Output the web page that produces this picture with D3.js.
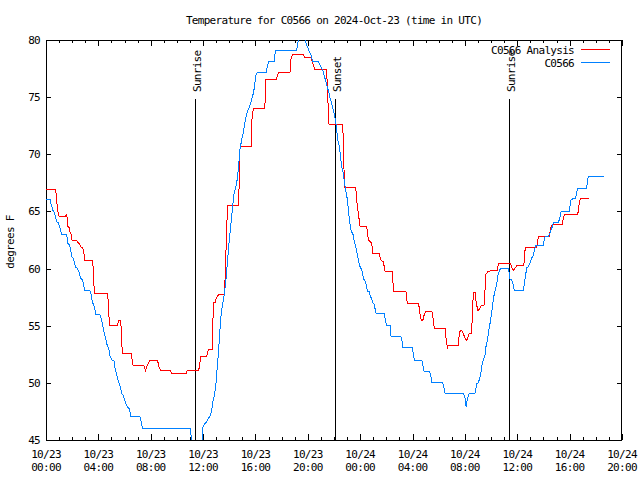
<!DOCTYPE html>
<html><head><meta charset="utf-8">
<script src="https://cdn.jsdelivr.net/npm/d3@7"></script>
<style>
body{margin:0;background:#fff}
svg text{font-family:"DejaVu Sans Mono",monospace;font-size:11px;letter-spacing:-0.7px;fill:#000}
</style></head><body>
<svg id="c" width="640" height="480"></svg>
<script>
// ---- data (hours since 2024-10-23 00:00 UTC, degrees F) ----
const analysis = [[0,66.93],[0.74,66.93],[0.815,65.94],[0.92,64.89],[0.99,64.6],[1.50,64.6],[1.55,64.69],[1.63,64.4],[1.68,63.67],[1.76,63.58],[1.83,63.23],[1.94,62.94],[1.99,62.5],[2.32,62.5],[2.39,62.35],[2.52,62.21],[2.65,61.92],[2.78,61.83],[2.85,61.63],[2.90,61.33],[2.95,60.75],[3.54,60.75],[3.62,59.88],[3.67,58.42],[3.72,57.83],[4.69,57.83],[4.76,57.1],[4.81,55.79],[4.86,55.06],[5.45,55.06],[5.58,55.5],[5.70,55.44],[5.75,54.63],[5.83,52.53],[6.52,52.53],[6.60,51.85],[6.67,51.48],[7.49,51.48],[7.61,51.07],[7.74,51.56],[7.94,52.0],[8.51,52.0],[8.63,51.42],[8.76,51.04],[9.52,51.04],[9.65,50.78],[10.70,50.78],[10.80,51.1],[11.64,51.1],[11.71,51.33],[11.82,52.35],[12.27,52.35],[12.40,52.88],[12.71,52.88],[12.73,53.95],[12.78,57.02],[12.91,57.02],[13.04,57.5],[13.17,57.69],[13.62,57.69],[13.70,59.58],[13.80,63.58],[13.88,65.53],[14.69,65.53],[14.74,66.79],[14.82,70.43],[14.90,70.64],[15.66,70.64],[15.74,73.2],[15.84,73.99],[16.68,73.99],[16.75,74.66],[16.80,76.56],[17.62,76.56],[17.67,76.91],[17.77,77.17],[18.64,77.17],[18.72,78.4],[18.84,78.75],[19.66,78.75],[19.73,78.5],[20.24,78.5],[20.35,78.1],[20.55,77.38],[21.44,77.38],[21.52,75.04],[21.62,72.6],[22.64,72.6],[22.72,71.4],[22.79,67.13],[23.66,67.13],[23.73,66.0],[23.86,64.83],[23.99,63.67],[24.50,63.67],[24.55,63.23],[24.62,62.5],[24.88,62.21],[24.96,61.33],[25.46,61.33],[25.57,60.75],[25.77,60.6],[25.90,59.73],[26.48,59.73],[26.53,57.98],[27.50,57.98],[27.60,56.93],[28.47,56.93],[28.55,56.1],[28.68,55.45],[28.78,55.45],[28.90,56.0],[29.0,56.23],[29.48,56.23],[29.56,55.7],[29.66,54.77],[30.50,54.77],[30.58,53.6],[30.67,53.1],[30.74,53.3],[31.50,53.3],[31.58,54.4],[31.70,54.63],[31.85,54.4],[31.98,54.0],[32.14,53.7],[32.21,53.9],[32.34,54.33],[32.47,54.33],[32.55,55.3],[32.60,56.96],[32.66,57.95],[32.77,57.95],[32.88,56.9],[33.0,56.3],[33.14,56.52],[33.28,56.81],[33.46,56.81],[33.54,58.2],[33.61,59.5],[33.72,59.7],[33.92,59.79],[34.45,59.79],[34.57,60.4],[34.68,60.46],[35.47,60.46],[35.60,60.02],[35.72,59.85],[35.83,60.05],[35.95,60.23],[36.50,60.23],[36.57,61.48],[36.65,61.86],[37.48,61.86],[37.56,62.5],[37.66,62.85],[38.45,62.85],[38.50,63.23],[38.58,63.61],[38.68,63.9],[39.47,63.9],[39.52,64.54],[39.65,64.77],[40.59,64.77],[40.67,64.98],[40.74,65.85],[40.85,66.15],[41.46,66.15]];

const station = [[0,66.06],[0.31,66.06],[0.36,65.77],[0.43,65.48],[0.53,65.07],[0.61,64.98],[0.69,64.69],[0.82,64.1],[0.92,64.02],[1.04,63.67],[1.12,63.38],[1.17,63.02],[1.55,63.02],[1.63,62.65],[1.68,62.21],[1.78,62.06],[1.88,61.77],[1.96,61.04],[2.09,60.9],[2.19,60.46],[2.27,60.11],[2.39,60.02],[2.52,59.73],[2.65,59.15],[2.78,59.0],[2.85,58.71],[2.95,58.07],[3.36,58.07],[3.46,57.69],[3.54,57.02],[3.62,56.9],[3.72,56.52],[3.79,56.02],[4.10,56.02],[4.18,55.79],[4.25,55.5],[4.35,54.92],[4.48,54.19],[4.56,53.9],[4.63,53.46],[4.81,52.88],[4.89,52.35],[5.02,52.0],[5.19,51.94],[5.27,51.27],[5.37,50.83],[5.50,50.25],[5.58,49.96],[5.70,49.52],[5.78,49.08],[5.88,48.94],[6.01,48.5],[6.14,48.06],[6.21,47.92],[6.39,47.69],[6.47,47.04],[7.18,47.04],[7.28,46.6],[7.36,46.02],[11.05,46.02],[11.13,44.4],[11.89,44.4],[11.97,46.08],[12.10,46.37],[12.22,46.52],[12.40,46.87],[12.53,47.1],[12.66,47.54],[12.73,48.27],[12.86,48.85],[12.99,50.02],[13.09,51.48],[13.19,52.93],[13.29,54.68],[13.37,55.85],[13.47,56.73],[13.60,57.6],[13.73,58.77],[13.80,59.79],[13.88,60.81],[13.98,62.27],[14.06,63.14],[14.16,64.31],[14.26,65.48],[14.36,66.5],[14.46,66.93],[14.57,67.52],[14.64,68.1],[14.72,69.12],[14.82,70.43],[14.90,70.96],[15.0,71.6],[15.07,71.89],[15.15,72.48],[15.23,73.06],[15.33,73.5],[15.41,73.79],[15.53,74.08],[15.64,74.52],[15.71,74.81],[15.79,75.1],[15.92,75.83],[16.02,76.85],[16.14,77.14],[16.81,77.14],[16.91,77.73],[17.01,78.08],[17.42,78.08],[17.52,79.04],[19.15,79.07],[19.20,79.56],[19.28,80.0],[19.35,80.44],[19.45,80.8],[19.70,80.8],[19.79,80.1],[19.84,79.85],[19.96,79.42],[20.12,78.98],[20.24,78.69],[20.37,78.1],[20.80,78.1],[20.93,77.81],[21.06,77.52],[21.19,77.23],[21.26,76.79],[21.36,76.5],[21.44,76.06],[21.52,75.77],[21.62,75.33],[21.70,74.9],[21.82,74.46],[21.95,73.88],[22.03,73.44],[22.13,72.85],[22.21,72.13],[22.28,71.25],[22.38,70.81],[22.46,70.23],[22.54,69.35],[22.64,68.63],[22.72,68.33],[22.79,67.6],[22.89,66.88],[22.97,66.44],[23.05,65.71],[23.15,64.54],[23.22,63.96],[23.30,63.38],[23.40,63.08],[23.48,62.94],[23.55,62.35],[23.66,61.92],[23.73,61.48],[23.81,61.04],[23.89,60.6],[23.99,60.17],[24.06,60.02],[24.17,59.73],[24.24,59.15],[24.32,59.0],[24.42,58.85],[24.50,58.27],[24.57,57.98],[24.68,57.98],[24.75,57.69],[24.88,57.31],[24.96,57.02],[25.06,56.87],[25.13,56.52],[25.21,56.08],[25.85,56.08],[25.92,55.5],[26.02,55.06],[26.28,55.0],[26.36,54.04],[27.12,54.04],[27.20,53.6],[27.25,53.1],[27.96,53.1],[28.06,52.58],[28.14,52.0],[28.70,52.0],[28.78,51.56],[28.88,50.98],[29.28,50.98],[29.39,50.69],[29.46,50.02],[30.30,50.02],[30.41,49.52],[30.48,49.08],[31.88,49.08],[32.01,48.65],[32.09,47.92],[32.19,48.65],[32.34,49.08],[32.77,49.08],[32.85,49.52],[32.90,49.9],[33.03,50.02],[33.16,50.54],[33.23,50.98],[33.33,51.71],[33.41,52.0],[33.54,52.44],[33.61,53.17],[33.72,53.75],[33.79,54.33],[33.92,55.21],[34.0,55.79],[34.10,56.67],[34.17,57.25],[34.25,57.83],[34.38,58.42],[34.48,59.0],[34.55,59.58],[34.68,59.93],[34.81,60.02],[35.34,60.02],[35.40,59.44],[35.45,59.06],[35.57,59.0],[35.70,58.56],[35.78,58.04],[36.47,58.04],[36.54,58.78],[36.64,59.45],[36.72,60.05],[36.85,60.17],[36.97,60.46],[37.10,60.9],[37.23,61.19],[37.31,61.63],[37.41,62.0],[37.99,62.0],[38.07,62.65],[38.17,62.85],[38.38,62.85],[38.50,63.08],[38.58,63.38],[38.68,63.67],[38.76,64.02],[39.14,64.02],[39.27,64.54],[39.34,64.98],[39.98,64.98],[40.03,65.48],[40.11,66.0],[40.21,66.09],[40.46,66.09],[40.54,66.73],[40.62,67.02],[41.30,67.02],[41.35,67.6],[41.43,68.04],[42.65,68.04]];

const seriesNames = ["C0566 Analysis", "C0566"];
const seriesColors = ["#ff0000", "#0080ff"];
const sunEvents = [{label:"Sunrise", h:11.40}, {label:"Sunset", h:22.10}, {label:"Sunrise", h:35.39}];
const yTicks = [45,50,55,60,65,70,75,80];
const xMajorHours = d3.range(0, 45, 4);
const xMinorHours = d3.range(0, 45, 1).filter(h => h % 4 !== 0);
const titleText = "Temperature for C0566 on 2024-Oct-23 (time in UTC)";
const yLabelText = "degrees F";

// ---- layout ----
const L = 46, R = 622, T = 40, B = 440;
const t0 = Date.UTC(2024, 9, 23);
const toDate = h => new Date(t0 + h * 3600000);

const svg = d3.select("#c");
svg.append("rect").attr("width", 640).attr("height", 480).attr("fill", "#fff");

const x = d3.scaleUtc().domain([toDate(0), toDate(44)]).range([L, R]);
const y = d3.scaleLinear().domain([45, 80]).range([B, T]);

svg.append("clipPath").attr("id", "clip")
  .append("rect").attr("x", L).attr("y", T).attr("width", R - L).attr("height", B - T);

// axes (ticks inward, mirrored)
function styleAxis(g) {
  g.select(".domain").remove();
  g.selectAll("line").attr("stroke", "#000").attr("shape-rendering", "crispEdges");
  g.selectAll("text").attr("font-family", null).attr("font-size", null).attr("fill", "#000");
  g.attr("font-family", null).attr("font-size", null);
}
const majorDates = xMajorHours.map(toDate), minorDates = xMinorHours.map(toDate);
svg.append("g").attr("transform", `translate(0,${B})`)
  .call(d3.axisBottom(x).tickValues(majorDates).tickSize(-6).tickFormat("")).call(styleAxis);
svg.append("g").attr("transform", `translate(0,${B})`)
  .call(d3.axisBottom(x).tickValues(minorDates).tickSize(-3).tickFormat("")).call(styleAxis);
svg.append("g").attr("transform", `translate(0,${T})`)
  .call(d3.axisTop(x).tickValues(majorDates).tickSize(-6).tickFormat("")).call(styleAxis);
svg.append("g").attr("transform", `translate(0,${T})`)
  .call(d3.axisTop(x).tickValues(minorDates).tickSize(-3).tickFormat("")).call(styleAxis);
svg.append("g").attr("transform", `translate(${L},0)`)
  .call(d3.axisLeft(y).tickValues(yTicks).tickSize(-5).tickPadding(6).tickFormat(d3.format("d"))).call(styleAxis);
svg.append("g").attr("transform", `translate(${R},0)`)
  .call(d3.axisRight(y).tickValues(yTicks).tickSize(-5).tickFormat("")).call(styleAxis);

// x tick labels (two lines)
const fDay = d3.utcFormat("%m/%d"), fTime = d3.utcFormat("%H:%M");
const xl = svg.append("g").attr("text-anchor", "middle");
majorDates.forEach(d => {
  xl.append("text").attr("x", x(d)).attr("y", 458).text(fDay(d));
  xl.append("text").attr("x", x(d)).attr("y", 471).text(fTime(d));
});

// border
svg.append("rect").attr("x", L + 0.5).attr("y", T + 0.5).attr("width", R - L - 1).attr("height", B - T)
  .attr("fill", "none").attr("stroke", "#000").attr("shape-rendering", "crispEdges");

// sun event lines
sunEvents.forEach(e => {
  const xe = Math.round(x(toDate(e.h))) + 0.5;
  svg.append("line").attr("x1", xe).attr("x2", xe).attr("y1", 99).attr("y2", B)
    .attr("stroke", "#000").attr("shape-rendering", "crispEdges");
  svg.append("text").attr("transform", `translate(${xe + 5.5},92) rotate(-90)`)
    .attr("text-anchor", "start").text(e.label);
});

// series
const line = d3.line().x(d => x(toDate(d[0]))).y(d => y(d[1]));
const plot = svg.append("g").attr("clip-path", "url(#clip)");
[analysis, station].forEach((s, i) => {
  plot.append("path").datum(s).attr("d", line).attr("fill", "none")
    .attr("stroke", seriesColors[i]).attr("stroke-width", 1).attr("shape-rendering", "crispEdges");
});

// title & y label
svg.append("text").attr("x", 334).attr("y", 24).attr("text-anchor", "middle").text(titleText);
svg.append("text").attr("transform", "translate(14,242) rotate(-90)").attr("text-anchor", "middle").text(yLabelText);

// legend
seriesNames.forEach((n, i) => {
  const ly = 49.5 + i * 13;
  svg.append("text").attr("x", 574).attr("y", ly + 4).attr("text-anchor", "end").text(n);
  svg.append("line").attr("x1", 581).attr("x2", 610).attr("y1", ly).attr("y2", ly)
    .attr("stroke", seriesColors[i]).attr("shape-rendering", "crispEdges");
});
</script></body></html>
